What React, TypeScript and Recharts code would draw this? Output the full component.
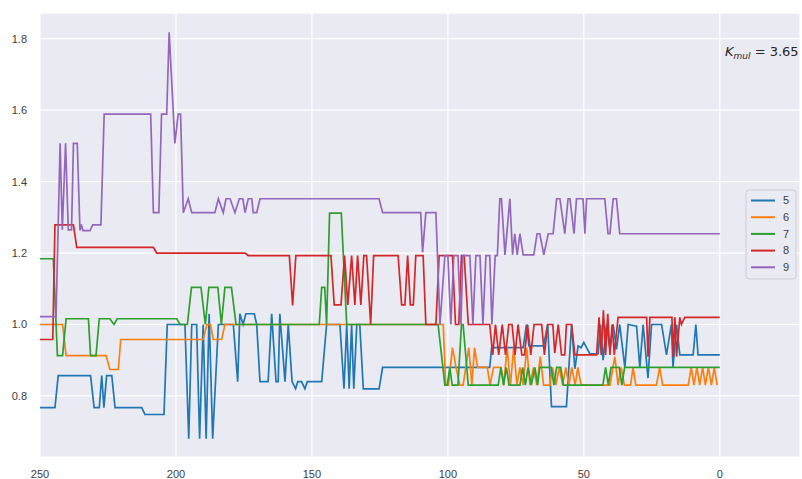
import { CartesianGrid, Line, LineChart, XAxis, YAxis } from 'recharts'

type Pt = [number, number]

const SERIES_NAMES = ['5', '6', '7', '8', '9']
const COLORS = ['#1f77b4', '#ff7f0e', '#2ca02c', '#d62728', '#9467bd']
const X_TICKS = [250, 200, 150, 100, 50, 0]
const Y_TICKS = [0.8, 1.0, 1.2, 1.4, 1.6, 1.8]
const K_MUL = '3.65'

const S5: Pt[] = [
  [250, 0.767], [244.5, 0.767], [243.3, 0.857], [231.4, 0.857], [230.1, 0.767], [228.2, 0.767],
  [227.3, 0.857], [226.5, 0.767], [225.5, 0.857], [223.6, 0.857], [222.4, 0.767], [212.6, 0.767],
  [211.4, 0.748], [204.4, 0.748], [203.2, 1.0], [196.7, 1.0], [195.3, 0.68], [194.2, 1.0],
  [192.4, 1.0], [191.3, 0.68], [190, 1.0], [188.9, 0.68], [187.8, 1.03], [186.5, 0.68],
  [184.4, 1.0], [178.9, 1.0], [177.3, 0.84], [176.5, 1.03], [175.3, 1.0], [174.3, 1.03],
  [171.2, 1.03], [170.3, 1.0], [169.1, 0.84], [166.1, 0.84], [164.8, 1.03], [163.2, 0.84],
  [162.4, 0.84], [161.8, 1.03], [159.9, 0.84], [158.7, 1.0], [157.3, 0.84], [156, 0.82],
  [155.2, 0.84], [153.8, 0.84], [152.6, 0.82], [151.7, 0.84], [146.4, 0.84], [144.6, 1.0],
  [139.7, 1.0], [138.2, 0.82], [137.2, 1.0], [136.3, 0.82], [135.4, 1.0], [134.6, 0.82],
  [133.5, 1.0], [132.4, 1.0], [131.1, 0.82], [125.3, 0.82], [124, 0.88], [84.6, 0.88],
  [83.9, 0.935], [72.3, 0.935], [71.1, 1.0], [70.2, 0.94], [64.8, 0.94], [63.3, 1.0],
  [61.9, 0.77], [56.4, 0.77], [54.5, 1.0], [53.3, 0.876], [52.1, 0.94], [51, 0.935],
  [50, 0.95], [49, 0.935], [47.8, 0.918], [44.7, 0.918], [43.9, 1.0], [42.9, 0.9],
  [41.7, 1.0], [40.4, 0.93], [39.2, 1.0], [38, 0.93], [36.8, 1.0], [34.9, 0.88],
  [33.7, 1.0], [30.6, 0.995], [29.4, 0.88], [28.2, 1.0], [26.4, 0.85], [25.1, 1.0],
  [21.4, 1.0], [19.6, 0.915], [17.8, 1.0], [17.2, 0.88], [15.9, 1.0], [14.7, 0.915],
  [9.8, 0.915], [8.8, 1.0], [8, 0.915], [0, 0.915],
]

const S6: Pt[] = [
  [250, 1.0], [241.7, 1.0], [240.4, 0.913], [225.7, 0.913], [224.3, 0.874], [221.2, 0.874],
  [220.3, 0.958], [190, 0.958], [188.6, 1.0], [187.3, 1.0], [186.3, 0.958], [183.2, 0.958],
  [182, 1.0], [101.7, 1.0], [100.8, 0.83], [99.8, 0.83], [98.3, 0.935], [97, 0.88],
  [95.6, 0.83], [94.4, 0.83], [92.3, 0.935], [91.2, 0.83], [90.2, 0.935], [89.1, 0.88],
  [85.5, 0.88], [84.5, 0.83], [83.2, 0.88], [80.5, 0.88], [79.5, 0.83], [78.2, 0.935],
  [77, 0.83], [75.8, 0.935], [74.6, 0.83], [73.5, 0.88], [72.3, 0.83], [71, 0.935],
  [69.8, 0.83], [68.5, 0.88], [67.3, 0.83], [66, 0.91], [64.8, 0.83], [62.5, 0.83],
  [61.5, 0.88], [60.3, 0.83], [59, 0.88], [57.8, 0.83], [56.6, 0.88], [55.5, 0.83],
  [54.4, 0.88], [53.2, 0.83], [52.2, 0.88], [51, 0.83], [40.4, 0.83], [38.6, 0.91],
  [37.4, 0.83], [36.3, 0.88], [35.1, 0.83], [32.8, 0.83], [31.9, 0.88], [30.9, 0.83],
  [23.3, 0.83], [22.1, 0.88], [21, 0.83], [11.6, 0.83], [10.5, 0.88], [9.5, 0.83],
  [8.4, 0.88], [7.4, 0.83], [6.3, 0.88], [5.3, 0.83], [4.2, 0.88], [3.1, 0.83],
  [2, 0.88], [1, 0.83],
]

const S7: Pt[] = [
  [250, 1.184], [245.1, 1.184], [243.6, 0.913], [241.7, 0.913], [240.4, 1.016], [232.2, 1.016],
  [231.4, 0.913], [229.4, 0.913], [228.2, 1.016], [224.3, 1.016], [222.8, 1.0], [221.6, 1.016],
  [199.7, 1.016], [198.5, 1.0], [195.8, 1.0], [194.3, 1.104], [190.8, 1.104], [189.2, 1.0],
  [187.9, 1.104], [184.6, 1.104], [183.3, 1.0], [182, 1.104], [179.6, 1.104], [177.9, 1.0],
  [147.3, 1.0], [146.4, 1.104], [145.3, 1.104], [144.6, 1.0], [143.5, 1.312], [139.2, 1.312],
  [137.2, 1.0], [103.6, 1.0], [101.1, 0.83], [100.2, 0.83], [99.3, 0.88], [98.4, 0.83],
  [96.3, 0.83], [95, 1.0], [94.4, 1.0], [92.5, 0.83], [81.5, 0.83], [80.5, 0.88],
  [79.5, 0.83], [78.5, 0.88], [77.5, 0.83], [73.5, 0.83], [72.5, 0.88], [71.5, 0.83],
  [70.5, 0.88], [69.3, 0.83], [68, 0.88], [67, 0.83], [66.2, 0.88], [62, 0.88],
  [61, 0.83], [60, 0.88], [58.5, 0.88], [57.5, 0.83], [43, 0.83], [42, 0.88],
  [41, 0.83], [40, 0.88], [37, 0.88], [36, 0.83], [35, 0.88], [0, 0.88],
]

const S8: Pt[] = [
  [250, 0.958], [245.3, 0.958], [244.5, 1.279], [237.7, 1.279], [236.5, 1.216], [208.3, 1.216],
  [207.1, 1.2], [174.6, 1.2], [173.4, 1.193], [158.3, 1.193], [157.1, 1.053], [155.9, 1.193],
  [143, 1.193], [141.8, 1.055], [139.3, 1.055], [138, 1.193], [136.8, 1.055], [135.4, 1.193],
  [134.2, 1.055], [133.2, 1.193], [132, 1.055], [130.9, 1.193], [129.9, 1.193], [128.4, 1.0],
  [127.3, 1.193], [118.3, 1.193], [117, 1.055], [115.8, 1.055], [114.8, 1.193], [113.8, 1.055],
  [112.7, 1.055], [111.8, 1.193], [109.1, 1.193], [108.1, 1.0], [104.4, 1.0], [103.2, 1.193],
  [98.3, 1.193], [97.2, 1.0], [96, 1.0], [95, 1.193], [94, 1.193], [92.5, 1.0],
  [84.6, 1.0], [83.5, 0.915], [82.5, 1.0], [81.3, 0.915], [80, 1.0], [78.8, 0.915],
  [77.6, 1.0], [76.4, 1.0], [75.3, 0.915], [74.2, 1.0], [72.8, 0.915], [71.8, 0.915],
  [70.7, 1.0], [69.5, 0.915], [68.3, 1.0], [65.5, 1.0], [64.5, 0.915], [63.3, 1.0],
  [61.4, 1.0], [60.7, 0.92], [59.4, 1.0], [58.2, 0.915], [57, 0.915], [56.4, 1.0],
  [54.5, 1.0], [53.3, 0.915], [45.3, 0.915], [44.4, 1.02], [43.6, 0.915], [42.8, 1.04],
  [42, 0.915], [41.2, 1.03], [40.4, 0.915], [39.6, 1.0], [38.8, 0.915], [37.4, 1.02],
  [26.9, 1.02], [26.4, 0.91], [25.7, 1.02], [17.6, 1.02], [17.2, 0.91], [16.5, 1.02],
  [15.9, 0.91], [14.7, 1.02], [14.1, 1.0], [12.9, 1.02], [0, 1.02],
]

const S9: Pt[] = [
  [250, 1.022], [244.1, 1.022], [242.6, 1.507], [241.8, 1.265], [240.6, 1.507], [239.6, 1.265],
  [238.4, 1.265], [237.7, 1.507], [236.3, 1.507], [235.3, 1.263], [234.8, 1.28], [234.2, 1.263],
  [231.6, 1.263], [230.6, 1.279], [227.6, 1.279], [226.4, 1.589], [209.3, 1.589], [208.3, 1.313],
  [206.3, 1.313], [205.3, 1.589], [203.4, 1.589], [202.5, 1.818], [200.4, 1.507], [199.2, 1.589],
  [198.3, 1.589], [197.3, 1.313], [195.5, 1.352], [194.2, 1.313], [185.7, 1.313], [184.4, 1.352],
  [182.6, 1.313], [181.6, 1.352], [180.1, 1.352], [178.3, 1.313], [176.7, 1.352], [175.4, 1.352],
  [174.6, 1.313], [173.4, 1.352], [172.1, 1.352], [171.6, 1.313], [170.3, 1.313], [169.1, 1.352],
  [125.3, 1.352], [124, 1.313], [110, 1.313], [109.3, 1.202], [108.1, 1.313], [104.4, 1.313],
  [102.9, 1.0], [101.1, 1.193], [100, 1.193], [98.9, 1.0], [97.8, 1.193], [96.3, 1.193],
  [95.2, 1.0], [94.5, 1.193], [91.9, 1.193], [90.8, 1.0], [89.7, 1.193], [88.2, 1.193],
  [87.1, 1.0], [86, 1.193], [84.6, 1.193], [83.8, 1.0], [82.6, 1.193], [81.8, 1.193],
  [80.9, 1.352], [80.3, 1.352], [79, 1.195], [77.2, 1.352], [76.2, 1.195], [75.4, 1.254],
  [74.5, 1.195], [73.5, 1.254], [72.3, 1.195], [68.4, 1.195], [67.2, 1.254], [66.2, 1.254],
  [64.7, 1.195], [63.1, 1.254], [61.3, 1.254], [60, 1.352], [58.8, 1.352], [57, 1.254],
  [55.8, 1.352], [55.1, 1.352], [53.6, 1.254], [52.7, 1.352], [50.3, 1.352], [49.6, 1.254],
  [49, 1.352], [42.3, 1.352], [41.1, 1.254], [40.4, 1.254], [39.2, 1.352], [38, 1.352],
  [36.8, 1.254], [0, 1.254],
]

const ALL_SERIES = [S5, S6, S7, S8, S9]

const toRows = (pts: Pt[]) => pts.map(([x, y]) => ({ x, y }))

const tickStyle = { fontSize: 11, fill: '#3d3d3d', fontFamily: '"Liberation Sans", Arial, sans-serif' }

function LegendBox() {
  return (
    <g>
      <rect x={746} y={190} width={50} height={89} rx={3} fill="#eaeaf2" fillOpacity={0.85} stroke="#cfcfcf" />
      {SERIES_NAMES.map((name, i) => {
        const y = 200.5 + i * 16.7
        return (
          <g key={name}>
            <line x1={751} x2={775} y1={y} y2={y} stroke={COLORS[i]} strokeWidth={2} />
            <text x={783} y={y} dy="0.35em" fontSize={11} fill="#3d3d3d" fontFamily='"Liberation Sans", Arial, sans-serif'>
              {name}
            </text>
          </g>
        )
      })}
    </g>
  )
}

export default function App() {
  return (
    <div style={{ position: 'relative', width: 802, height: 479, background: '#fff' }}>
      <style>{'body{margin:0}'}</style>
      <LineChart width={802} height={479} margin={{ top: 13, right: 2, bottom: 0, left: 0 }}>
        <CartesianGrid fill="#eaeaf2" stroke="#ffffff" strokeWidth={1.2} />
        <XAxis
          type="number"
          dataKey="x"
          domain={[-29.5, 250]}
          reversed
          allowDataOverflow
          ticks={X_TICKS}
          axisLine={false}
          tickLine={false}
          height={22}
          tickMargin={7}
          tick={tickStyle}
        />
        <YAxis
          type="number"
          domain={[0.629, 1.872]}
          allowDataOverflow
          ticks={Y_TICKS}
          tickFormatter={(v: number) => v.toFixed(1)}
          axisLine={false}
          tickLine={false}
          width={40}
          tickMargin={7}
          tick={tickStyle}
        />
        {ALL_SERIES.map((pts, i) => (
          <Line
            key={SERIES_NAMES[i]}
            name={SERIES_NAMES[i]}
            data={toRows(pts)}
            dataKey="y"
            type="linear"
            stroke={COLORS[i]}
            strokeWidth={1.7}
            dot={false}
            activeDot={false}
            isAnimationActive={false}
          />
        ))}
      </LineChart>
      <svg width={802} height={479} style={{ position: 'absolute', left: 0, top: 0, pointerEvents: 'none' }}>
        <LegendBox />
        <text x={725} y={56} fontSize={13} fill="#262626" fontFamily='"DejaVu Sans", sans-serif'>
          <tspan fontStyle="italic">K</tspan>
          <tspan fontStyle="italic" fontSize={9} dy={3}>mul</tspan>
          <tspan dy={-3}>{' = ' + K_MUL}</tspan>
        </text>
      </svg>
    </div>
  )
}
